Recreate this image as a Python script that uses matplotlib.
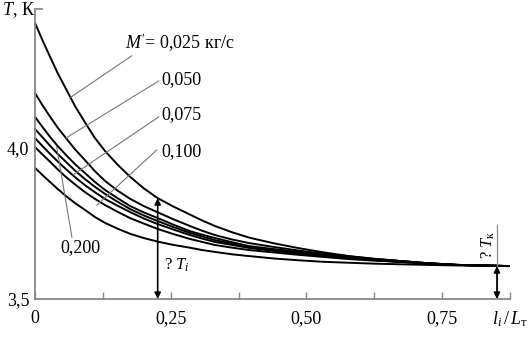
import matplotlib
matplotlib.use("Agg")
import matplotlib.pyplot as plt

plt.rcParams['font.family'] = ['Liberation Serif', 'DejaVu Serif']
plt.rcParams['mathtext.fontset'] = 'custom'
plt.rcParams['mathtext.rm'] = 'Liberation Serif'
plt.rcParams['mathtext.it'] = 'Liberation Serif:italic'

# relative length l_i / L_T
x_vals = [0, 0.014, 0.028, 0.042, 0.057, 0.074, 0.092, 0.11, 0.129, 0.152, 0.175, 0.2, 0.226,
          0.255, 0.285, 0.308, 0.331, 0.363, 0.395, 0.441, 0.487, 0.533, 0.579, 0.625, 0.671,
          0.72, 0.776, 0.825, 0.873]

# temperature curves (K)
T_025 = [4.414, 4.356, 4.301, 4.247, 4.196, 4.138, 4.085, 4.034, 3.990, 3.945, 3.905, 3.867, 3.834,
         3.806, 3.780, 3.760, 3.742, 3.721, 3.703, 3.684, 3.668, 3.654, 3.642, 3.633, 3.626,
         3.619, 3.613, 3.611, 3.609]
T_050 = [4.182, 4.141, 4.103, 4.067, 4.033, 3.995, 3.960, 3.924, 3.891, 3.859, 3.832, 3.808, 3.787,
         3.764, 3.742, 3.726, 3.712, 3.697, 3.685, 3.672, 3.660, 3.650, 3.641, 3.633, 3.626,
         3.619, 3.613, 3.611, 3.609]
T_075 = [4.103, 4.069, 4.036, 4.006, 3.977, 3.946, 3.917, 3.888, 3.861, 3.834, 3.808, 3.787, 3.768,
         3.746, 3.725, 3.713, 3.702, 3.688, 3.675, 3.665, 3.656, 3.647, 3.639, 3.632, 3.626,
         3.619, 3.613, 3.611, 3.609]
T_100 = [4.063, 4.035, 4.007, 3.980, 3.954, 3.925, 3.897, 3.872, 3.848, 3.822, 3.798, 3.777, 3.758,
         3.738, 3.719, 3.707, 3.695, 3.683, 3.672, 3.662, 3.652, 3.644, 3.636, 3.629, 3.623,
         3.618, 3.613, 3.611, 3.609]
T_150 = [4.033, 4.006, 3.980, 3.955, 3.930, 3.903, 3.877, 3.854, 3.831, 3.809, 3.788, 3.767, 3.748,
         3.730, 3.712, 3.700, 3.689, 3.679, 3.669, 3.659, 3.649, 3.642, 3.636, 3.629, 3.623,
         3.618, 3.613, 3.611, 3.609]
T_200 = [4.003, 3.978, 3.954, 3.929, 3.904, 3.879, 3.854, 3.832, 3.811, 3.789, 3.768, 3.750, 3.732,
         3.715, 3.699, 3.689, 3.679, 3.670, 3.662, 3.654, 3.646, 3.639, 3.632, 3.627, 3.623,
         3.618, 3.613, 3.611, 3.609]
T_low = [3.934, 3.910, 3.887, 3.864, 3.841, 3.817, 3.795, 3.772, 3.752, 3.733, 3.716, 3.702, 3.690,
         3.679, 3.670, 3.662, 3.656, 3.648, 3.642, 3.634, 3.628, 3.623, 3.620, 3.617, 3.615,
         3.613, 3.611, 3.610, 3.609]
curves = [T_025, T_050, T_075, T_100, T_150, T_200, T_low]

x_ticks = [0, 0.125, 0.25, 0.375, 0.5, 0.625, 0.75, 0.875]
x_ticklabels = ['0', '', '0,25', '', '0,50', '', '0,75', '']
y_ticks = [3.5, 4.0]
y_ticklabels = ['3,5', '4,0']

flow_labels = ["$M'$= 0,025 кг/с", "0,050", "0,075", "0,100", "0,200"]
label_pos = [(0.165, 4.348), (0.233, 4.225), (0.233, 4.109), (0.233, 3.987), (0.046, 3.669)]
leaders = [((0.178, 4.305), (0.064, 4.166)),
           ((0.228, 4.222), (0.057, 4.033)),
           ((0.228, 4.103), (0.070, 3.911)),
           ((0.224, 3.993), (0.114, 3.811)),
           ((0.068, 3.705), (0.040, 4.003))]

x_arrow_i = 0.226
T_arrow_i = 3.834
x_arrow_k = 0.851
T_arrow_k = 3.609
T_ext_k = 3.745

fig = plt.figure(figsize=(5.29, 3.46), dpi=100)
W, H = 529, 346
ax = fig.add_axes([35 / W, (H - 299) / H, (510 - 35) / W, 290 / H])
ax.set_xlim(0, 0.875)
ax.set_ylim(3.5, 3.5 + 290 / 302)

for T in curves:
    ax.plot(x_vals, T, color='black', lw=1.4, solid_joinstyle='round',
            solid_capstyle='round', clip_on=False)

for (p1, p2) in leaders:
    ax.plot([p1[0], p2[0]], [p1[1], p2[1]], color='#777777', lw=0.8)

for txt, (tx, ty) in zip(flow_labels, label_pos):
    ax.text(tx, ty, txt, fontsize=13, ha='left', va='center')

gray = '#888888'
for s in ['top', 'right']:
    ax.spines[s].set_visible(False)
for s in ['left', 'bottom']:
    ax.spines[s].set_color(gray)
    ax.spines[s].set_linewidth(1.3)

ax.set_xticks(x_ticks)
ax.set_xticklabels(x_ticklabels, fontsize=13)
ax.set_yticks(y_ticks)
ax.set_yticklabels(y_ticklabels, fontsize=13)
ax.tick_params(axis='x', direction='in', length=5, width=1.0, color=gray, pad=8)
ax.tick_params(axis='y', direction='in', length=0, width=1.0, color=gray, pad=4)
# small tick at top of y axis
ax.plot([0, 0.012], [3.5 + 290 / 302] * 2, color=gray, lw=1.3, clip_on=False)

# arrows
ax.annotate('', xy=(x_arrow_i, T_arrow_i), xytext=(x_arrow_i, 3.5),
            arrowprops=dict(arrowstyle='<|-|>', color='black', lw=1.2,
                            mutation_scale=9, shrinkA=0, shrinkB=0))
ax.text(x_arrow_i + 0.012, 3.613, '? $T_i$', fontsize=12, ha='left', va='center')

ax.plot([x_arrow_k, x_arrow_k], [3.5, T_ext_k], color=gray, lw=0.9)
ax.annotate('', xy=(x_arrow_k, T_arrow_k), xytext=(x_arrow_k, 3.5),
            arrowprops=dict(arrowstyle='<|-|>', color='black', lw=1.2,
                            mutation_scale=9, shrinkA=0, shrinkB=0))
ax.text(x_arrow_k - 0.016, 3.679, '? $T_{\\mathrm{к}}$', fontsize=12, rotation=90,
        ha='center', va='center')

fig.text(2 / W, 1 - 10 / H, '$T$, К', fontsize=13, ha='left', va='center')
fig.text(492 / W, 1 - 319 / H, '$l_i\\,/\\,L_{\\mathrm{т}}$', fontsize=13, ha='left', va='center')

fig.savefig('out.png', dpi=100)
